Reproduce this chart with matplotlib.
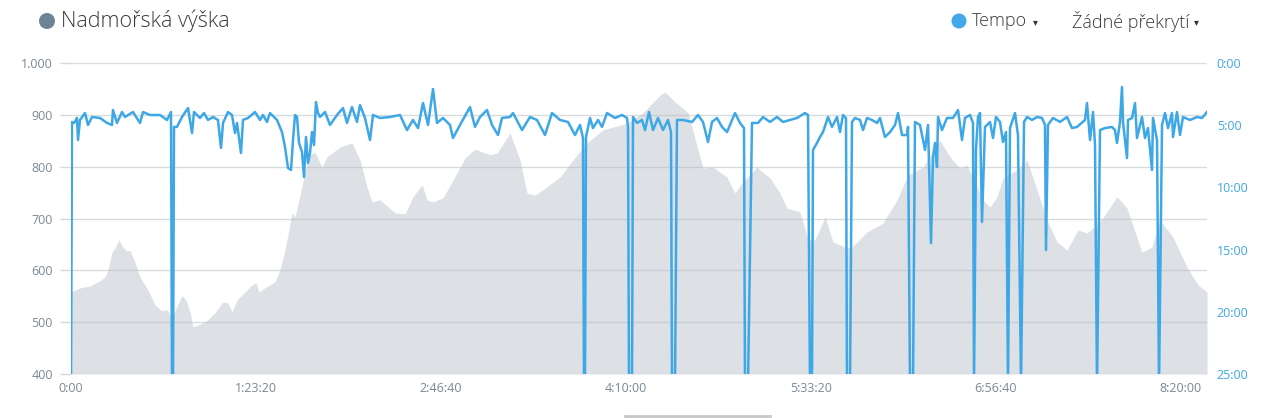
import numpy as np
import matplotlib
matplotlib.use('Agg')
import matplotlib.pyplot as plt
from matplotlib.patches import Ellipse

plt.rcParams['font.family'] = ['Open Sans', 'DejaVu Sans']

# elevation profile (time in s, elevation in m)
elev_t = [0, 243, 514, 784, 919, 1000, 1108, 1189, 1297, 1379, 1514, 1595, 1730, 1865,
          2081, 2271, 2460, 2595, 2730, 2865, 3000, 3108, 3217, 3298, 3622, 3892, 4109,
          4244, 4352, 4487, 4703, 4892, 5000, 5082, 5190, 5379, 5514, 5649, 5784, 5974,
          6055, 6190, 6325, 6460, 6595, 6784, 6920, 7271, 7595, 7812, 8001, 8136, 8352,
          8758, 9028, 9244, 9488, 9623, 9785, 10055, 10325, 10650, 10920, 11136, 11326,
          11515, 11866, 12136, 12326, 12542, 12866, 13218, 13569, 13947, 14380, 15029,
          15461, 15921, 16056, 16326, 16678, 17083, 17353, 17732, 17948, 18137, 18543,
          18894, 19164, 19353, 19705, 19921, 20110, 20381, 20597, 20975, 21110, 21516,
          21948, 22327, 22624, 23030, 23489, 23759, 24030, 24219, 24435, 24651, 24841,
          25030, 25192, 25570, 25841, 26111, 26381, 26652, 26922, 27219, 27462, 27814,
          28273, 28544, 28949, 29219, 29436, 29787, 30165, 30463, 30706]
elev_m = [558, 566, 570, 580, 587, 601, 635, 643, 659, 647, 637, 639, 616, 587,
          562, 533, 522, 524, 508, 531, 551, 543, 520, 491, 500, 518, 539,
          537, 520, 543, 558, 572, 576, 558, 564, 572, 578, 601, 639, 711,
          703, 745, 790, 823, 828, 799, 819, 838, 846, 813, 761, 732, 736,
          711, 709, 742, 765, 736, 732, 740, 774, 817, 834, 828, 823,
          826, 865, 813, 749, 745, 761, 780, 813, 846, 871, 884,
          904, 938, 944, 925, 904, 797, 799, 780, 749, 769, 799,
          778, 749, 720, 713, 659, 659, 703, 655, 643, 645, 674,
          691, 736, 784, 799, 851, 819, 797, 803, 769, 736, 722,
          742, 778, 794, 813, 755, 697, 655, 639, 678, 672, 693,
          742, 720, 635, 645, 697, 664, 606, 572, 558]

# pace (time in s, min/km)
pace_t = [0, 27, 81, 135, 162, 189, 243, 378, 460, 568, 784, 973, 1108, 1135, 1243,
          1379, 1460, 1676, 1865, 1946, 2135, 2406, 2595, 2703, 2730, 2757, 2784, 2865,
          3000, 3163, 3271, 3325, 3487, 3595, 3703, 3838, 3973, 4055, 4109, 4244, 4352,
          4433, 4487, 4595, 4649, 4784, 4974, 5109, 5190, 5298, 5379, 5568, 5703, 5784,
          5866, 5947, 6001, 6055, 6109, 6163, 6244, 6298, 6352, 6406, 6460, 6514, 6568,
          6622, 6676, 6730, 6866, 7001, 7190, 7352, 7460, 7595, 7731, 7812, 7947, 8082,
          8163, 8352, 8623, 8893, 9082, 9244, 9379, 9515, 9650, 9785, 9893, 10055, 10244,
          10325, 10515, 10785, 10920, 11055, 11244, 11380, 11542, 11650, 11866, 11947,
          12191, 12407, 12596, 12812, 13001, 13218, 13434, 13623, 13758, 13839, 13866,
          13893, 13920, 14029, 14110, 14245, 14353, 14488, 14704, 14894, 15029, 15056,
          15083, 15164, 15191, 15299, 15434, 15515, 15623, 15731, 15867, 16002, 16137,
          16218, 16245, 16326, 16380, 16542, 16786, 16948, 17083, 17218, 17326, 17461,
          17597, 17732, 17948, 18083, 18191, 18218, 18299, 18407, 18570, 18705, 18894,
          19083, 19245, 19435, 19624, 19840, 19921, 19975, 20029, 20056, 20164, 20245,
          20327, 20462, 20570, 20705, 20786, 20867, 20948, 20975, 21056, 21110, 21192,
          21327, 21408, 21516, 21651, 21786, 21867, 22002, 22138, 22273, 22354, 22462,
          22597, 22624, 22678, 22759, 22813, 22948, 23084, 23165, 23246, 23300, 23354,
          23408, 23435, 23543, 23678, 23840, 23976, 24084, 24165, 24300, 24381, 24408,
          24462, 24516, 24570, 24624, 24705, 24841, 24922, 25003, 25111, 25192, 25273,
          25327, 25381, 25516, 25597, 25679, 25760, 25841, 25976, 26111, 26246, 26327,
          26354, 26408, 26543, 26733, 26922, 27057, 27192, 27408, 27462, 27544, 27625,
          27679, 27733, 27814, 27949, 28138, 28219, 28273, 28354, 28408, 28436, 28544,
          28571, 28679, 28760, 28814, 28949, 29030, 29111, 29219, 29246, 29355, 29409,
          29490, 29571, 29652, 29760, 29787, 29895, 29976, 30057, 30247, 30436, 30571,
          30706]
pace_min = [26, 4.74, 4.82, 4.58, 4.42, 6.19, 4.58, 4.02, 4.98, 4.34, 4.42, 4.82, 4.98, 3.78, 4.82,
            3.94, 4.34, 3.94, 4.82, 3.94, 4.18, 4.18, 4.58, 3.94, 26, 26, 5.14, 5.14,
            4.34, 3.62, 5.63, 3.94, 4.42, 4.02, 4.58, 4.34, 4.58, 6.83, 4.82, 3.94, 4.18,
            5.63, 4.82, 7.23, 4.58, 4.42, 3.94, 4.58, 4.18, 4.74, 4.02, 4.58, 5.55, 6.75,
            8.44, 8.60, 6.19, 4.18, 4.34, 6.43, 7.15, 9.16, 5.95, 8.04, 7.23, 5.55, 6.59,
            3.14, 4.02, 4.34, 3.94, 4.98, 4.18, 3.62, 4.82, 3.54, 4.74, 3.38, 4.42, 6.19,
            4.18, 4.42, 4.34, 4.18, 5.39, 4.58, 5.23, 3.22, 4.98, 2.09, 4.82, 4.42, 4.98,
            6.03, 4.98, 3.54, 5.14, 4.34, 3.78, 4.98, 5.79, 4.42, 4.34, 4.02,
            5.39, 4.34, 4.58, 5.79, 4.02, 4.58, 4.74, 5.79, 4.98, 6.03, 26,
            26, 5.95, 4.42, 5.23, 4.58, 5.14, 4.02, 4.42, 4.18, 4.42, 5.14,
            26, 26, 4.34, 4.82, 4.58, 5.39, 3.94, 5.39, 4.42, 5.39, 4.58,
            5.55, 26, 26, 4.58, 4.58, 4.74, 4.18, 4.74, 6.35, 4.74, 4.42,
            5.14, 5.55, 4.02, 4.82, 5.23, 26, 26, 4.82, 4.82, 4.34, 4.74,
            4.34, 4.74, 4.58, 4.42, 4.02, 4.18, 26, 26, 6.99, 6.43, 5.95,
            5.55, 4.34, 5.14, 4.34, 5.55, 4.18, 4.42, 26, 26, 4.74, 4.42,
            4.58, 5.39, 4.42, 4.58, 4.82, 4.42, 5.95, 5.55, 4.98, 4.02, 5.79,
            5.79, 5.14, 26, 26, 4.74, 4.98, 6.99, 4.98, 14.47, 7.56, 6.43,
            8.36, 4.34, 5.39, 4.42, 4.42, 3.78, 6.19, 4.42, 4.18, 4.82, 26,
            6.99, 4.34, 4.02, 12.78, 5.14, 4.74, 6.03, 4.34, 4.74, 6.35, 5.55,
            26, 5.23, 4.02, 5.79, 26, 4.74, 4.34, 4.58, 4.34, 4.42, 4.98,
            15.03, 4.98, 4.42, 4.74, 4.34, 5.23, 5.14, 4.58, 3.22, 6.19, 3.94,
            6.59, 26, 5.39, 5.23, 5.14, 5.39, 6.43, 4.74, 1.93, 4.74, 7.64,
            4.58, 4.42, 3.22, 6.03, 4.34, 6.03, 5.23, 8.60, 4.42, 6.19, 26,
            4.98, 4.02, 5.23, 4.02, 5.95, 3.94, 5.79, 4.34, 4.58, 4.34, 4.42,
            3.94]

elev_ticks = [400, 500, 600, 700, 800, 900, 1000]
elev_labels = ['400', '500', '600', '700', '800', '900', '1.000']
pace_ticks = [0, 5, 10, 15, 20, 25]
pace_labels = ['0:00', '5:00', '10:00', '15:00', '20:00', '25:00']
time_ticks = [0, 5000, 10000, 15000, 20000, 25000, 30000]
time_labels = ['0:00', '1:23:20', '2:46:40', '4:10:00', '5:33:20', '6:56:40', '8:20:00']

grid_c = '#d4d7db'
label_c = '#7c8894'
blue = '#3ea7e6'
W, H = 1279, 418

fig = plt.figure(figsize=(12.79, 4.18), dpi=100)
ax = fig.add_axes([71 / W, 1 - 374 / H, (1207 - 71) / W, (374 - 63) / H])

ax.fill_between(elev_t, elev_m, 400, color='#dde1e6', lw=0, zorder=1)
ax.set_xlim(0, 30706)
ax.set_ylim(400, 1000)
ax.set_yticks(elev_ticks)
ax.set_yticklabels(elev_labels)
ax.set_xticks(time_ticks)
ax.set_xticklabels(time_labels)
for y in elev_ticks:
    ax.axhline(y, color='#b9bec4', lw=1, alpha=0.55, zorder=2)
for s in ax.spines.values():
    s.set_visible(False)
ax.tick_params(axis='y', length=8, width=1, color=grid_c, labelcolor=label_c,
               labelsize=9, pad=5)
ax.tick_params(axis='x', length=0, labelcolor=label_c, labelsize=9, pad=6)

ax2 = ax.twinx()
ax2.plot(pace_t, pace_min, color=blue, lw=1.8, zorder=3)
ax2.set_ylim(25, 0)
ax2.set_yticks(pace_ticks)
ax2.set_yticklabels(pace_labels)
ax2.set_xlim(0, 30706)
for s in ax2.spines.values():
    s.set_visible(False)
ax2.tick_params(axis='y', length=0, labelcolor=blue, labelsize=9, pad=7)

# header legend
fig.add_artist(Ellipse((47 / W, 1 - 21 / H), 16 / W, 16 / H,
                       transform=fig.transFigure, color='#6f8397', lw=0))
fig.text(61 / W, 1 - 21 / H, 'Nadmořská výška', color='#3a3a3a', fontsize=15.5,
         fontweight='light', ha='left', va='center')
fig.add_artist(Ellipse((959 / W, 1 - 21 / H), 15 / W, 15 / H,
                       transform=fig.transFigure, color='#41a8ea', lw=0))
fig.text(972 / W, 1 - 21 / H, 'Tempo', color='#3a3a3a', fontsize=13,
         fontweight='light', ha='left', va='center')
fig.text(1035 / W, 1 - 22 / H, '\u25BE', color='#333333', fontsize=7,
         ha='center', va='center', family=['DejaVu Sans'])
fig.text(1072 / W, 1 - 21 / H, 'Žádné překrytí', color='#3a3a3a', fontsize=13,
         fontweight='light', ha='left', va='center')
fig.text(1196 / W, 1 - 22 / H, '\u25BE', color='#333333', fontsize=7,
         ha='center', va='center', family=['DejaVu Sans'])

# scrollbar stub at the bottom
fig.add_artist(plt.Line2D([625 / W, 770 / W], [1 - 416 / H, 1 - 416 / H],
                          transform=fig.transFigure, color='#c8c8c8', lw=2))

fig.savefig('out.png', dpi=100)
